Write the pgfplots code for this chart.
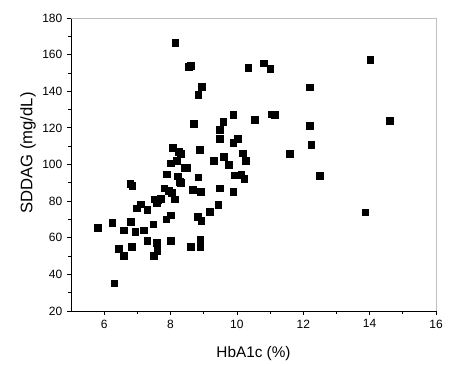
\documentclass[border=0pt]{standalone}
\usepackage{fontspec}
\setmainfont{Liberation Sans}
\usepackage{pgfplots}
\pgfplotsset{compat=1.18}
\begin{document}
\begin{tikzpicture}
\useasboundingbox (-53.25pt,-41.25pt) rectangle (284.25pt,233.25pt);
\begin{axis}[
 at={(0,0)}, anchor=south west,
 scale only axis, width=273.75pt, height=219.75pt,
 xmin=5, xmax=16, ymin=20, ymax=180,
 xtick={6,8,...,16}, ytick={20,40,...,180},
 minor x tick num=1, minor y tick num=1,
 axis x line*=bottom, axis y line*=left,
 axis line style={-, black, line width=0.6pt},
 tick align=outside, major tick length=3pt, minor tick length=2pt,
 tick style={black, line width=0.6pt},
 /pgf/number format/assume math mode=true,
 ticklabel style={font=\fontsize{9}{10}\selectfont},
 xlabel={HbA1c (\%)}, ylabel={SDDAG (mg/dL)},
 xlabel style={font=\fontsize{11.5}{13}\selectfont, at={(axis description cs:0.5,-0.1468)}, anchor=center},
 ylabel style={font=\fontsize{12.5}{14}\selectfont, at={(axis description cs:-0.1178,0.539)}, anchor=center},
 after end axis/.code={\draw[gray!50, line width=0.6pt] (rel axis cs:0,1) -- (rel axis cs:1,1) -- (rel axis cs:1,0);},
]
\addplot[only marks, mark=square*, mark size=2.5pt, black] table {
x y
14.02 157.1
10.34 153.0
10.80 155.2
11.01 152.1
12.20 142.1
10.53 124.4
11.04 127.5
11.14 127.0
12.19 121.1
14.61 124.0
12.24 110.9
11.59 106.0
10.18 106.2
10.27 102.2
10.13 94.4
10.22 92.3
12.49 94.0
13.87 74.0
8.14 166.5
8.54 153.2
8.60 153.9
8.95 142.3
8.84 138.1
9.89 127.2
9.59 123.2
8.70 122.1
9.49 119.1
9.49 114.2
10.03 114.2
9.89 112.0
8.06 109.1
8.25 106.9
8.31 106.0
8.89 108.0
9.60 104.2
8.19 102.2
8.01 100.7
9.31 102.0
9.76 99.7
8.43 98.3
8.49 98.3
7.89 94.7
8.21 93.6
8.84 93.1
9.92 94.2
10.09 94.2
8.27 90.4
8.31 90.0
6.79 89.3
6.85 88.3
7.81 87.1
7.94 85.8
8.04 84.4
8.67 86.2
8.91 85.2
9.49 87.1
9.89 85.1
7.53 81.1
7.61 80.9
7.71 81.4
8.12 81.1
7.58 79.2
7.10 78.3
6.99 76.1
7.30 75.1
9.44 78.1
9.19 74.1
8.82 71.4
8.93 69.2
8.00 72.3
7.87 70.1
7.48 67.4
5.80 65.5
6.24 68.3
6.80 68.8
6.60 64.1
6.94 63.2
7.20 64.1
7.30 58.3
7.59 57.2
8.00 58.3
8.90 59.2
6.44 53.9
6.84 55.2
7.60 52.8
7.49 50.1
6.60 50.1
8.60 55.0
8.90 55.2
6.30 35.1
};
\end{axis}
\end{tikzpicture}
\end{document}
